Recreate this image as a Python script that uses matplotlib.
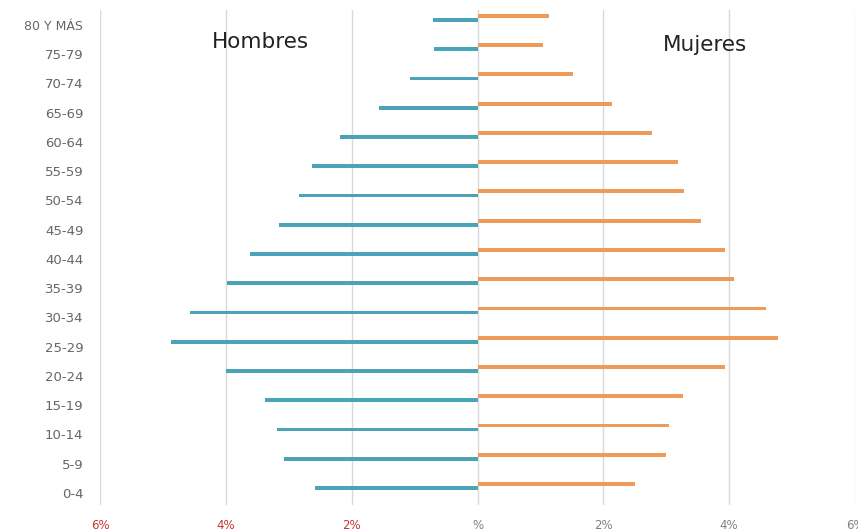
import matplotlib
matplotlib.use('Agg')
import matplotlib.pyplot as plt
import numpy as np

grupos = ["0-4", "5-9", "10-14", "15-19", "20-24", "25-29", "30-34", "35-39",
          "40-44", "45-49", "50-54", "55-59", "60-64", "65-69", "70-74",
          "75-79", "80 Y MÁS"]
hombres = [2.59, 3.08, 3.19, 3.38, 4.00, 4.87, 4.57, 3.98,
           3.62, 3.16, 2.83, 2.63, 2.19, 1.56, 1.08, 0.69, 0.71]
mujeres = [2.51, 3.00, 3.05, 3.27, 3.94, 4.78, 4.59, 4.08,
           3.94, 3.56, 3.29, 3.19, 2.78, 2.13, 1.52, 1.04, 1.13]
ticks = [-6, -4, -2, 0, 2, 4, 6]
tick_labels = ["6%", "4%", "2%", "%", "2%", "4%", "6%"]

plt.rcParams['font.family'] = ['DejaVu Sans']

fig = plt.figure(figsize=(8.58, 5.31), dpi=100)
ax = fig.add_axes([100 / 858, 1 - 505 / 531, 755 / 858, 495 / 531])

y = np.arange(len(grupos))
ax.barh(y + 0.17, -np.array(hombres), height=0.13, color='#4BA3B8', zorder=3)
ax.barh(y + 0.31, mujeres, height=0.13, color='#EE9B5A', zorder=3)

ax.set_xlim(-6, 6)
ax.set_ylim(-0.41, 16.51)
ax.set_xticks(ticks)
ax.set_xticklabels(tick_labels, fontsize=8.5)
for lab, t in zip(ax.get_xticklabels(), ticks):
    lab.set_color('#c0392b' if t < 0 else '#808080')
ax.set_yticks(y)
ax.set_yticklabels(grupos, fontsize=9.5, color='#666666')
ax.get_yticklabels()[-1].set_fontsize(9)
ax.tick_params(axis='both', length=0)
ax.tick_params(axis='x', pad=10)
ax.tick_params(axis='y', pad=12)
for s in ax.spines.values():
    s.set_visible(False)
ax.grid(axis='x', color='#d9d9d9', linewidth=1, zorder=0)
ax.grid(axis='y', visible=False)

ax.text(-4.22, 15.42, "Hombres", fontsize=15.5, color='#222222', va='center')
ax.text(2.94, 15.32, "Mujeres", fontsize=15.5, color='#222222', va='center')

plt.savefig("out.png", dpi=100)
